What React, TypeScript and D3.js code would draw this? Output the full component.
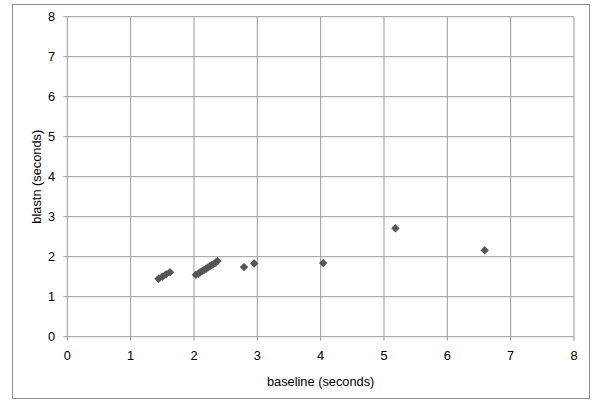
import React from "react";
import * as d3 from "d3";

const baselineSec = [1.44, 1.5, 1.56, 1.62, 2.03, 2.07, 2.1, 2.13, 2.16, 2.19, 2.22, 2.25, 2.28, 2.31, 2.34, 2.37, 2.79, 2.95, 4.04, 5.18, 6.59];
const blastnSec = [1.45, 1.5, 1.56, 1.61, 1.55, 1.58, 1.61, 1.64, 1.67, 1.7, 1.73, 1.76, 1.79, 1.82, 1.85, 1.89, 1.74, 1.83, 1.84, 2.71, 2.16];
const xTicks = [0, 1, 2, 3, 4, 5, 6, 7, 8];
const yTicks = [0, 1, 2, 3, 4, 5, 6, 7, 8];
const xTitle = "baseline (seconds)";
const yTitle = "blastn (seconds)";

export default function App() {
  const W = 600, H = 408;
  const left = 67.3, right = 574, top = 16.7, bottom = 336.7;
  const x = d3.scaleLinear().domain([0, 8]).range([left, right]);
  const y = d3.scaleLinear().domain([0, 8]).range([bottom, top]);
  const grid = "#9a9a9a";
  const font = "Liberation Sans, Arial, sans-serif";
  const fs = 12.8;
  const diamond = "M0,-4.2L4.2,0L0,4.2L-4.2,0Z";
  return (
    <svg width={W} height={H} style={{ position: "absolute", left: 0, top: 0, background: "#fff" }}>
      <rect x={12.5} y={4.5} width={577} height={394} fill="#fff" stroke="#8c8c8c" strokeWidth={1} />
      {xTicks.map((t) => (
        <line key={"gx" + t} x1={x(t)} x2={x(t)} y1={top} y2={bottom + 4} stroke={grid} strokeWidth={1} />
      ))}
      {yTicks.map((t) => (
        <line key={"gy" + t} x1={left - 4} x2={right} y1={y(t)} y2={y(t)} stroke={grid} strokeWidth={1} />
      ))}
      {yTicks.map((t) => (
        <text key={"ly" + t} x={55} y={y(t) + 4.5} textAnchor="end" fontFamily={font} fontSize={fs} fill="#000">
          {t}
        </text>
      ))}
      {xTicks.map((t) => (
        <text key={"lx" + t} x={x(t)} y={360} textAnchor="middle" fontFamily={font} fontSize={fs} fill="#000">
          {t}
        </text>
      ))}
      {baselineSec.map((v, i) => (
        <path key={"p" + i} d={diamond} transform={`translate(${x(v)},${y(blastnSec[i])})`} fill="#555" />
      ))}
      <text x={(left + right) / 2} y={385.5} textAnchor="middle" fontFamily={font} fontSize={fs} fill="#000">
        {xTitle}
      </text>
      <text
        transform={`translate(41,${(top + bottom) / 2}) rotate(-90)`}
        textAnchor="middle"
        fontFamily={font}
        fontSize={fs}
        fill="#000"
      >
        {yTitle}
      </text>
    </svg>
  );
}
